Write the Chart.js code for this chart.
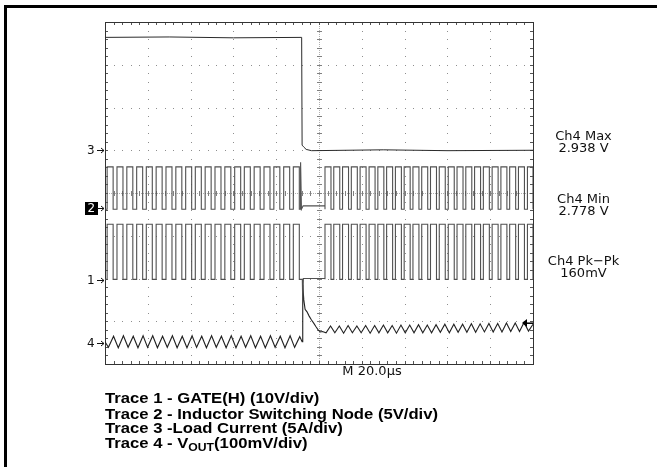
<!DOCTYPE html>
<html>
<head>
<meta charset="utf-8">
<script src="https://cdn.jsdelivr.net/npm/chart.js@4.4.0/dist/chart.umd.min.js"></script>
<style>
  html, body { margin: 0; padding: 0; background: #fff; }
</style>
</head>
<body>
<canvas id="scope" width="657" height="467"></canvas>
<script>
// time axis in µs (20 µs/div, 10 div), vertical axis in divisions (8 div)
const timeSpan = [0, 200];
const divSpan = [0, 8];
const stepTime = 92.1;

// switching pulses (rising edges, µs) - same edges on trace 1 and trace 2
const pulseStartsBefore = [1.0, 5.6, 10.2, 14.8, 19.3, 23.9, 28.5, 33.1, 37.7, 42.2,
  46.8, 51.4, 56.0, 60.6, 65.1, 69.7, 74.3, 78.9, 83.5, 88.0];
const pulseStartsAfter = [102.8, 106.9, 111.0, 115.1, 119.2, 123.4, 127.5, 131.6, 135.7,
  139.8, 143.9, 148.0, 152.1, 156.2, 160.4, 164.5, 168.6, 172.7, 176.8, 180.9, 185.0,
  189.1, 193.2, 197.4];
const onTime = 2.8;

// levels in divisions [low, high]
const gateLevels = [1.98, 3.27];
const switchLevels = [3.62, 4.61];
const gateGlitch = [[92.2, 1.98], [92.4, 1.45], [92.7, 2.0], [102.8, 2.0]];
const switchGlitch = [[91.3, 3.62], [91.4, 4.72], [91.8, 3.62], [92.6, 3.70], [102.8, 3.70]];

// trace 3: load current
const loadTimes = [0, 30, 60, 91.9, 92.1, 92.8, 94.0, 96.5, 130, 160, 200];
const loadDivs = [7.64, 7.65, 7.63, 7.64, 5.12, 5.08, 5.02, 4.99, 5.01, 4.99, 5.0];

// trace 4: VOUT ripple and transient
const voutPoints = [
  [0, 0.52], [1.6, 0.39], [4.0, 0.65], [6.2, 0.38], [8.6, 0.66], [10.8, 0.39], [13.2, 0.65],
  [15.4, 0.38], [17.8, 0.66], [19.9, 0.39], [22.3, 0.66], [24.5, 0.38], [26.9, 0.65],
  [29.1, 0.39], [31.5, 0.66], [33.7, 0.38], [36.1, 0.65], [38.3, 0.38], [40.7, 0.66],
  [42.8, 0.39], [45.2, 0.65], [47.4, 0.38], [49.8, 0.66], [52.0, 0.39], [54.4, 0.65],
  [56.6, 0.38], [59.0, 0.66], [61.2, 0.38], [63.6, 0.65], [65.7, 0.39], [68.1, 0.66],
  [70.3, 0.38], [72.7, 0.65], [74.9, 0.38], [77.3, 0.66], [79.5, 0.39], [81.9, 0.65],
  [84.1, 0.38], [86.5, 0.66], [88.6, 0.39], [91.0, 0.64], [92.1, 0.52],
  [92.4, 1.85], [92.9, 1.50], [93.5, 1.28], [94.4, 1.22], [95.4, 1.12], [96.5, 1.03],
  [97.6, 0.95], [98.6, 0.87], [99.6, 0.80], [100.6, 0.75], [101.6, 0.76],
  [103.3, 0.73], [105.4, 0.89], [107.4, 0.73], [109.5, 0.89], [111.5, 0.72], [113.6, 0.90],
  [115.6, 0.73], [117.7, 0.89], [119.7, 0.73], [121.8, 0.90], [123.9, 0.72], [126.0, 0.90],
  [128.0, 0.73], [130.1, 0.91], [132.1, 0.73], [134.2, 0.90], [136.2, 0.72], [138.3, 0.91],
  [140.3, 0.73], [142.4, 0.91], [144.4, 0.73], [146.5, 0.92], [148.5, 0.73], [150.6, 0.91],
  [152.6, 0.73], [154.7, 0.92], [156.7, 0.74], [158.8, 0.93], [160.9, 0.73], [163.0, 0.93],
  [165.0, 0.74], [167.1, 0.93], [169.1, 0.74], [171.2, 0.94], [173.2, 0.74], [175.3, 0.94],
  [177.3, 0.75], [179.4, 0.95], [181.4, 0.75], [183.5, 0.95], [185.5, 0.75], [187.6, 0.96],
  [189.6, 0.76], [191.7, 0.96], [193.7, 0.76], [195.8, 0.97], [197.9, 0.77], [200, 0.93]
];

// channel reference markers at the left, and the Ch4 level marker at the right
const markerLabels = ['3', '2', '1', '4'];
const markerLevels = [5.0, 3.65, 1.96, 0.49];
const ch4Marker = 0.96;

const measureLabels = ['Ch4 Max', '2.938 V', 'Ch4 Min', '2.778 V', 'Ch4 Pk\u2212Pk', '160mV'];
const timebaseLabel = 'M 20.0\u00b5s';
const captionLines = [
  'Trace 1 - GATE(H) (10V/div)',
  'Trace 2 - Inductor Switching Node (5V/div)',
  'Trace 3 -Load Current (5A/div)',
  'Trace 4 - V'
];

function squareWave(levels, glitch) {
  const pts = [{ x: 0, y: levels[0] }];
  const add = s => {
    const e = Math.min(s + onTime, timeSpan[1]);
    pts.push({ x: s, y: levels[0] }, { x: s, y: levels[1] }, { x: e, y: levels[1] }, { x: e, y: levels[0] });
  };
  pulseStartsBefore.forEach(add);
  glitch.forEach(p => pts.push({ x: p[0], y: p[1] }));
  pulseStartsAfter.forEach(add);
  pts.push({ x: timeSpan[1], y: levels[0] });
  return pts;
}

const graticule = {
  id: 'graticule',
  beforeDatasetsDraw(chart) {
    const { ctx, chartArea: a, scales: { x, y } } = chart;
    ctx.save();
    // dotted major lines
    ctx.fillStyle = '#8e8e8e';
    for (let i = 1; i < 10; i++) {
      if (i === 5) continue;
      const px = Math.round(x.getPixelForValue(i * 20));
      for (let j = 1; j < 40; j++) ctx.fillRect(px, Math.round(y.getPixelForValue(j / 5)), 1, 1);
    }
    for (let j = 1; j < 8; j++) {
      if (j === 4) continue;
      const py = Math.round(y.getPixelForValue(j));
      for (let i = 1; i < 50; i++) ctx.fillRect(Math.round(x.getPixelForValue(i * 4)), py, 1, 1);
    }
    // centre cross with fine dots and minor ticks
    const cx = Math.round(x.getPixelForValue(100));
    const cy = Math.round(y.getPixelForValue(4));
    ctx.fillStyle = '#b0b0b0';
    for (let py = a.top; py < a.bottom; py += 2) ctx.fillRect(cx, py, 1, 1);
    for (let px = a.left; px < a.right; px += 2) ctx.fillRect(px, cy, 1, 1);
    ctx.fillStyle = '#808080';
    for (let j = 1; j < 40; j++) ctx.fillRect(cx - 2, Math.round(y.getPixelForValue(j / 5)), 5, 1);
    for (let i = 1; i < 50; i++) ctx.fillRect(Math.round(x.getPixelForValue(i * 4)), cy - 2, 1, 5);
    // frame ticks
    ctx.fillStyle = '#555';
    for (let i = 1; i < 50; i++) {
      const px = Math.round(x.getPixelForValue(i * 4));
      ctx.fillRect(px, a.top, 1, 3);
      ctx.fillRect(px, a.bottom - 3, 1, 3);
    }
    for (let j = 1; j < 40; j++) {
      const py = Math.round(y.getPixelForValue(j / 5));
      ctx.fillRect(a.left, py, 3, 1);
      ctx.fillRect(a.right - 3, py, 3, 1);
    }
    ctx.strokeStyle = '#333';
    ctx.lineWidth = 1;
    ctx.strokeRect(a.left + 0.5, a.top + 0.5, a.right - a.left, a.bottom - a.top);
    ctx.restore();
  },
  afterDraw(chart) {
    const { ctx, chartArea: a, scales: { x, y } } = chart;
    ctx.save();
    // outer frame (left and top)
    ctx.fillStyle = '#000';
    ctx.fillRect(4, 5, 3, 462);
    ctx.fillRect(4, 5, 653, 3);

    // channel markers
    ctx.font = '12px "DejaVu Sans"';
    ctx.textBaseline = 'middle';
    ctx.textAlign = 'left';
    markerLabels.forEach((lbl, i) => {
      const py = Math.round(y.getPixelForValue(markerLevels[i])) + 0.5;
      if (lbl === '2') {
        ctx.fillStyle = '#000';
        ctx.fillRect(85, py - 6.5, 13, 13);
        ctx.fillStyle = '#fff';
        ctx.fillText(lbl, 87.5, py + 0.5);
      } else {
        ctx.fillStyle = '#111';
        ctx.fillText(lbl, 87, py + 0.5);
      }
      ctx.strokeStyle = '#111';
      ctx.lineWidth = 1;
      ctx.beginPath();
      ctx.moveTo(97, py);
      ctx.lineTo(104, py);
      ctx.moveTo(101, py - 2.5);
      ctx.lineTo(104, py);
      ctx.lineTo(101, py + 2.5);
      ctx.stroke();
    });

    // Ch4 marker at right edge
    const my = y.getPixelForValue(ch4Marker);
    ctx.fillStyle = '#000';
    ctx.beginPath();
    ctx.moveTo(a.right - 11, my);
    ctx.lineTo(a.right - 6, my - 4);
    ctx.lineTo(a.right - 6, my + 4);
    ctx.closePath();
    ctx.fill();
    ctx.fillRect(a.right - 7, my - 0.5, 7, 1.5);

    // measurements
    ctx.font = '13px "DejaVu Sans"';
    ctx.textAlign = 'center';
    ctx.textBaseline = 'alphabetic';
    ctx.fillStyle = '#111';
    const measureBase = [140, 151.5, 203, 215, 265, 277];
    measureLabels.forEach((t, i) => ctx.fillText(t, 583.5, measureBase[i]));

    ctx.fillText(timebaseLabel, 372, 375);

    // caption (wide bold face, stretched horizontally)
    ctx.textAlign = 'left';
    ctx.fillStyle = '#000';
    const stretch = 1.11;
    const capBase = [403, 418.5, 433, 447.5];
    ctx.translate(105, 0);
    ctx.scale(stretch, 1);
    ctx.font = 'bold 15px "Liberation Sans"';
    captionLines.forEach((t, i) => ctx.fillText(t, 0, capBase[i]));
    let cx = ctx.measureText(captionLines[3]).width;
    ctx.font = 'bold 11px "Liberation Sans"';
    ctx.fillText('OUT', cx, 451);
    cx += ctx.measureText('OUT').width;
    ctx.font = 'bold 15px "Liberation Sans"';
    ctx.fillText('(100mV/div)', cx, 447.5);
    ctx.restore();
  }
};

const traceStyle = (color, width) => ({
  borderColor: color, borderWidth: width, pointRadius: 0, tension: 0, fill: false
});

new Chart(document.getElementById('scope').getContext('2d'), {
  type: 'line',
  data: {
    datasets: [
      Object.assign({ label: 'Trace 3', data: loadTimes.map((t, i) => ({ x: t, y: loadDivs[i] })) }, traceStyle('#2a2a2a', 1)),
      Object.assign({ label: 'Trace 2', data: squareWave(switchLevels, switchGlitch) }, traceStyle('#505050', 1.1)),
      Object.assign({ label: 'Trace 1', data: squareWave(gateLevels, gateGlitch) }, traceStyle('#505050', 1.1)),
      Object.assign({ label: 'Trace 4', data: voutPoints.map(p => ({ x: p[0], y: p[1] })) }, traceStyle('#222', 1.1))
    ]
  },
  options: {
    responsive: false,
    animation: false,
    devicePixelRatio: 1,
    layout: { padding: { left: 105, top: 22, right: 124, bottom: 103 } },
    plugins: { legend: { display: false }, tooltip: { enabled: false } },
    scales: {
      x: { type: 'linear', min: timeSpan[0], max: timeSpan[1], display: false },
      y: { type: 'linear', min: divSpan[0], max: divSpan[1], display: false }
    }
  },
  plugins: [graticule]
});
</script>
</body>
</html>
